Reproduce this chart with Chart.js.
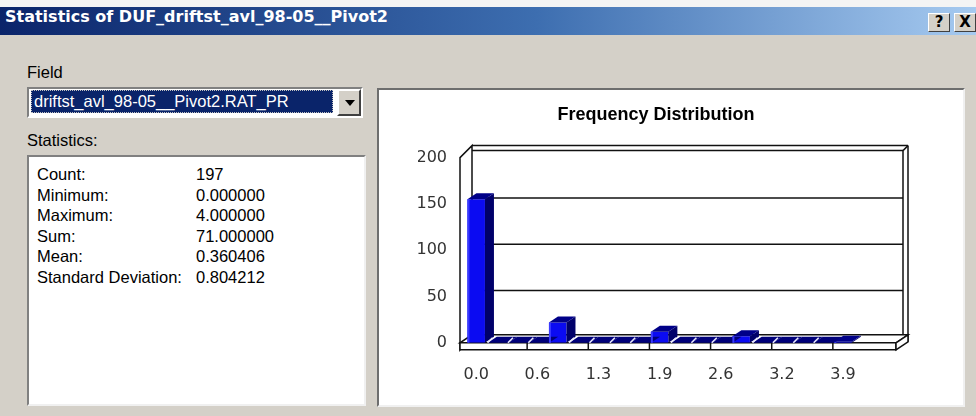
<!DOCTYPE html>
<html>
<head>
<meta charset="utf-8">
<script src="https://cdn.jsdelivr.net/npm/chart.js@4.4.0/dist/chart.umd.min.js"></script>
<style>
html,body{margin:0;padding:0;}
body{width:976px;height:416px;background:#d4d0c8;position:relative;overflow:hidden;font-family:"Liberation Sans",Arial,sans-serif;color:#000;}
#strip{position:absolute;left:0;top:0;width:976px;height:7px;background:#f4f4f4;}
#titlebar{position:absolute;left:0;top:7px;width:976px;height:28px;background:linear-gradient(to right,#0a246a 0%,#3d6eb0 55%,#a6caf0 100%);}
#titletext{position:absolute;left:5px;top:0;line-height:28px;color:#fff;font:bold 16px "DejaVu Sans",sans-serif;white-space:nowrap;}
.tbtn{position:absolute;top:6px;width:22px;height:19px;box-sizing:border-box;background:#d4d0c8;border:1px solid;border-color:#fff #404040 #404040 #fff;font:bold 15px "DejaVu Sans",sans-serif;text-align:center;line-height:17px;}
.lbl{position:absolute;left:27px;font-size:16.5px;white-space:nowrap;}
#combo{position:absolute;left:27px;top:87px;width:336px;height:31px;box-sizing:border-box;background:#fff;border:2px solid;border-color:#808080 #fff #fff #808080;}
#sel{position:absolute;left:2px;top:1px;width:302px;height:23px;box-sizing:border-box;background:#0a246a;border:1px dotted #c0c0c0;color:#fff;font-size:16.5px;line-height:21px;padding-left:2px;white-space:nowrap;}
#drop{position:absolute;right:0;top:0;width:24px;height:27px;box-sizing:border-box;background:#d4d0c8;border:2px solid;border-color:#fff #404040 #404040 #fff;}
#drop:after{content:"";position:absolute;left:6px;top:9px;border-left:5px solid transparent;border-right:5px solid transparent;border-top:6px solid #000;}
#list{position:absolute;left:27px;top:155px;width:339px;height:251px;box-sizing:border-box;background:#fff;border:2px solid;border-color:#808080 #f0f0f0 #f0f0f0 #808080;padding:7px 0 0 8px;}
.row{position:relative;height:20.5px;line-height:20.5px;font-size:16.5px;white-space:nowrap;}
.row span{position:absolute;left:159px;}
#panel{position:absolute;left:377px;top:88px;width:588px;height:319px;box-sizing:border-box;background:#fff;border:2px solid;border-color:#6e6e6e #f0f0f0 #f0f0f0 #6e6e6e;}
#chart{position:absolute;left:380px;top:90px;}
</style>
</head>
<body>
<div id="strip"></div>
<div id="titlebar">
  <div id="titletext">Statistics of DUF_driftst_avl_98-05__Pivot2</div>
  <div class="tbtn" style="left:928px">?</div>
  <div class="tbtn" style="left:954px">X</div>
</div>
<div class="lbl" style="top:63px">Field</div>
<div id="combo"><div id="sel">driftst_avl_98-05__Pivot2.RAT_PR</div><div id="drop"></div></div>
<div class="lbl" style="top:131px">Statistics:</div>
<div id="list"></div>
<div id="panel"></div>
<canvas id="chart" width="582" height="317"></canvas>
<script>
// histogram bins, labelled every third bin
const binCounts = [155, 0, 0, 0, 22, 0, 0, 0, 0, 12, 0, 0, 0, 7, 0, 0, 0, 0, 1, null, null];
const tickLabels = ['0.0', '0.6', '1.3', '1.9', '2.6', '3.2', '3.9'];
const yMax = 200;
const yStep = 50;

const statNames = ['Count:', 'Minimum:', 'Maximum:', 'Sum:', 'Mean:', 'Standard Deviation:'];
const statValues = ['197', '0.000000', '4.000000', '71.000000', '0.360406', '0.804212'];

let list = document.getElementById('list');
statNames.forEach(function(name, i){
    let row = document.createElement('div');
    row.className = 'row';
    row.textContent = name;
    let val = document.createElement('span');
    val.textContent = statValues[i];
    row.appendChild(val);
    list.appendChild(row);
});

function poly(ctx, pts, fill){
    ctx.beginPath();
    ctx.moveTo(pts[0][0], pts[0][1]);
    for (let i = 1; i < pts.length; i++) ctx.lineTo(pts[i][0], pts[i][1]);
    ctx.closePath();
    if (fill) { ctx.fillStyle = fill; ctx.fill(); }
}
function line(ctx, x0, y0, x1, y1){
    ctx.beginPath();
    ctx.moveTo(x0, y0);
    ctx.lineTo(x1, y1);
    ctx.stroke();
}

// fake 3d walls, floor and bar faces
const box3d = {
    id: 'box3d',
    beforeDatasetsDraw(chart){
        const ctx = chart.ctx;
        const a = chart.chartArea;
        const L = a.left, R = a.right, T = a.top, B = a.bottom;
        ctx.save();
        ctx.lineWidth = 1.5;
        ctx.strokeStyle = '#111';
        line(ctx, L + 6, T - 12, R + 14, T - 12);
        line(ctx, R + 14, T - 12, R + 14, B - 1);
        line(ctx, L + 6, T - 7, R + 9, T - 7);
        line(ctx, R + 9, T - 7, R + 9, B - 8);
        line(ctx, R + 9, T - 7, R + 14, T - 12);
        chart.scales.y.ticks.forEach(function(t){
            if (t.value <= 0 || t.value >= yMax) return;
            let py = chart.scales.y.getPixelForValue(t.value) - 6;
            line(ctx, L + 6, py, R + 9, py);
        });
        poly(ctx, [[L - 6, T], [L + 6, T - 12], [L + 6, B - 8], [L - 6, B + 7]], '#fff');
        ctx.stroke();
        poly(ctx, [[L - 6, B], [R + 2, B], [R + 14, B - 8], [L + 6, B - 8]], '#fff');
        ctx.stroke();
        poly(ctx, [[L - 6, B], [R + 2, B], [R + 2, B + 7], [L - 6, B + 7]], '#fff');
        ctx.stroke();
        poly(ctx, [[R + 2, B], [R + 14, B - 8], [R + 14, B - 1], [R + 2, B + 7]], '#fff');
        ctx.stroke();
        let xs = chart.scales.x;
        for (let i = 3; i < binCounts.length; i += 3) {
            let px = (xs.getPixelForValue(i - 1) + xs.getPixelForValue(i)) / 2;
            line(ctx, px, B, px, B + 7);
        }
        ctx.restore();
    },
    afterDatasetsDraw(chart){
        const ctx = chart.ctx;
        const dx = 9, dy = 6;
        ctx.save();
        chart.getDatasetMeta(0).data.forEach(function(bar, i){
            let v = binCounts[i];
            if (v === null) return;
            let p = bar.getProps(['x', 'y', 'base', 'width'], true);
            let x0 = p.x - p.width / 2, x1 = p.x + p.width / 2;
            if (v > 0) {
                poly(ctx, [[x1, p.y], [x1 + dx, p.y - dy], [x1 + dx, p.base - dy], [x1, p.base]], '#00006a');
                poly(ctx, [[x0, p.y], [x1, p.y], [x1 + dx, p.y - dy], [x0 + dx, p.y - dy]], '#000088');
                ctx.fillStyle = '#3a3aff';
                ctx.fillRect(x0, p.y, 2, p.base - p.y);
            } else {
                poly(ctx, [[x0, p.base], [x1 + 3, p.base], [x1 + 3 + dx, p.base - dy], [x0 + dx, p.base - dy]], '#00007a');
                ctx.strokeStyle = '#e8e8ff';
                ctx.lineWidth = 1.6;
                line(ctx, p.x - 9, p.base, p.x - 4, p.base - 5);
            }
        });
        ctx.restore();
    }
};

Chart.defaults.font.family = '"DejaVu Sans", sans-serif';

let ctx = document.getElementById('chart');
let chart = new Chart(ctx, {
    type: 'bar',
    data: {
        labels: binCounts.map((_, i) => (i % 3 === 0 && tickLabels[i / 3]) ? tickLabels[i / 3] : ''),
        datasets: [{
            data: binCounts,
            backgroundColor: '#0b0bf2',
            borderWidth: 0,
            barPercentage: 0.86,
            categoryPercentage: 1
        }]
    },
    options: {
        responsive: false,
        animation: false,
        devicePixelRatio: 1,
        layout: { padding: { left: 38, right: 68, top: 0, bottom: 1 } },
        plugins: {
            legend: { display: false },
            tooltip: { enabled: false },
            title: {
                display: true,
                text: 'Frequency Distribution',
                color: '#000',
                font: { family: '"Liberation Sans", Arial, sans-serif', size: 18, weight: 'bold' },
                padding: { top: 14, bottom: 32 }
            }
        },
        scales: {
            x: {
                grid: { display: false, drawTicks: false },
                border: { display: false },
                ticks: { autoSkip: false, maxRotation: 0, minRotation: 0, padding: 22, color: '#333', font: { size: 16 } }
            },
            y: {
                min: 0,
                max: yMax,
                grid: { display: false, drawTicks: false },
                border: { display: false },
                ticks: { stepSize: yStep, padding: 19, color: '#333', font: { size: 16 } },
                afterFit: function(s){ s.width = 48; }
            }
        }
    },
    plugins: [box3d]
});
</script>
</body>
</html>
